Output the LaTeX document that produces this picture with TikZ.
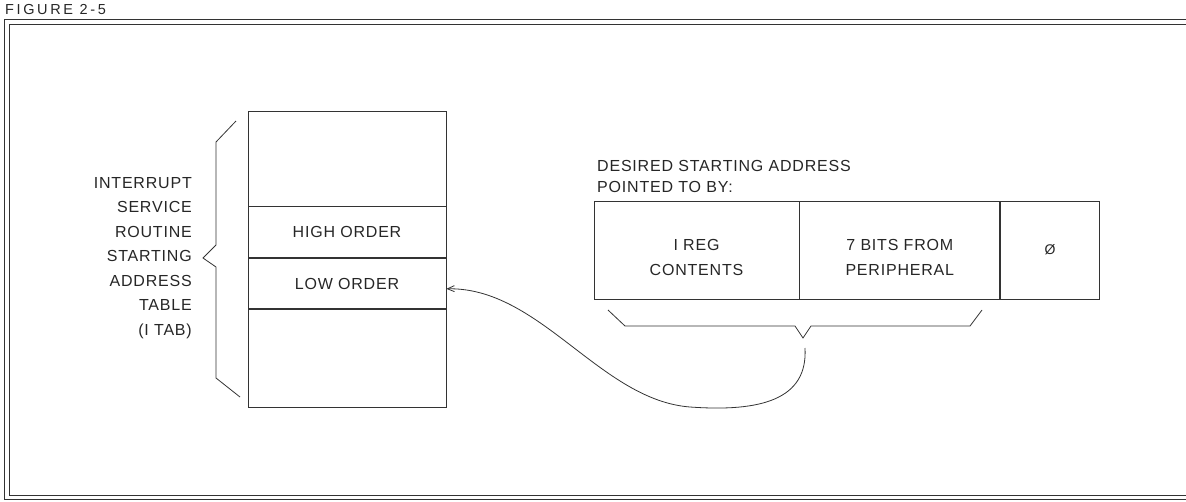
\documentclass[tikz,border=0pt]{standalone}
\usepackage{fontspec}
\setmainfont{Liberation Sans}[LetterSpace=5]
\usetikzlibrary{arrows.meta,positioning}

\begin{document}
\begin{tikzpicture}[x=1pt, y=-1pt,
    every node/.style={font=\fontsize{16}{24.5}\selectfont, text=black!85},
    cell/.style={rectangle, draw=black!80, line width=0.8pt, inner sep=0pt,
                 minimum width=198pt},
    fld/.style={rectangle, draw=black!80, line width=0.8pt, inner sep=0pt,
                minimum height=98pt},
    txt/.style={align=center, inner sep=0pt, font=\fontsize{16}{25}\selectfont},
    ln/.style={draw=black!80, line width=0.8pt},
    e/.style={ln, -{Straight Barb[length=7pt, width=6pt]}},
  ]
  \useasboundingbox (0,0) rectangle (1186,501);
  \node[anchor=base west, inner sep=0pt,
        font=\fontsize{14.5}{14.5}\selectfont\addfontfeatures{LetterSpace=18}] (fig) at (5,14.5) {FIGURE 2-5};
  \draw[ln] (4,19) -- (1186,19) (9,24) -- (1186,24);
  \draw[ln] (4,19) -- (4,499) -- (1186,499) (9,24) -- (9,495) -- (1186,495);

  \node[cell, minimum height=95pt] (r0) at (347,158.5) {};
  \node[cell, minimum height=51pt, below=0pt of r0] (hi) {HIGH ORDER};
  \node[cell, minimum height=50pt, below=0pt of hi] (lo) {LOW ORDER};
  \node[cell, minimum height=98pt, below=0pt of lo] (r3) {};
  \node[align=right, anchor=east, inner sep=0pt] (itab) at (192,258)
    {INTERRUPT\\SERVICE\\ROUTINE\\STARTING\\ADDRESS\\TABLE\\(I TAB)};
  \draw[ln] (236,121) -- (216,142) -- (216,245) -- (203,258) -- (216,267)
    -- (216,378) -- (240,397);

  \node[anchor=base west, inner sep=0pt] (des) at (597,171) {DESIRED STARTING ADDRESS};
  \node[anchor=base west, inner sep=0pt] (ptd) at (597,192) {POINTED TO BY:};
  \node[fld, minimum width=205pt] (ireg) at (696.5,250) {};
  \node[fld, minimum width=200pt, right=0pt of ireg] (bits) {};
  \node[fld, minimum width=99pt, right=0pt of bits] (zero) {\fontsize{14}{14}\selectfont Ø};
  \node[txt] (iregt) at ([yshift=-7.5pt]ireg.center) {I REG\\CONTENTS};
  \node[txt] (bitst) at ([yshift=-7.5pt]bits.center) {7 BITS FROM\\PERIPHERAL};
  \draw[ln] (608,310) -- (625,326) -- (795,326) -- (803,338) -- (811,326)
    -- (970,326) -- (982,310);

  \coordinate (cv) at (805,348);
  \draw[e] (cv) .. controls (808,400) and (760,412) .. (690,407)
    .. controls (600,400) and (540,287) .. (lo.-3);
\end{tikzpicture}
\end{document}
